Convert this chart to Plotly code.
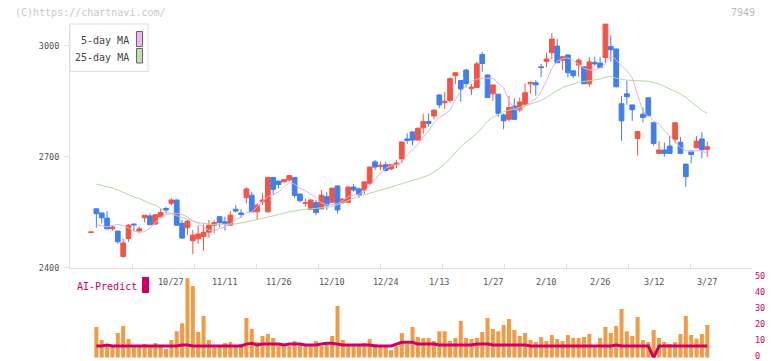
import plotly.graph_objects as go

W, H = 772, 361
def px(x): return x / W
def py(y): return 1 - y / H

FONT = "DejaVu Sans Mono"
RED = "#f25545"
BLUE = "#3f7fef"
ORANGE = "#f39a45"
CRIMSON = "#cc0066"
PINK = "#e6aee6"
GREEN = "#b2d9a2"

# ---- data ----
opens = [2495.5, 2559, 2548, 2534, 2505, 2499, 2430, 2479, 2518, 2499, 2535, 2540, 2518, 2537, 2560, 2574, 2583, 2520, 2508, 2473,
         2478, 2484, 2496, 2515, 2538, 2524, 2515, 2558, 2548, 2589, 2596, 2551, 2578, 2551, 2644, 2634, 2632, 2637, 2644, 2599,
         2574, 2558, 2576, 2559, 2592, 2577, 2621, 2576, 2577, 2618, 2613, 2610, 2628, 2686, 2673, 2678, 2667, 2678, 2694, 2748,
         2767, 2745, 2778, 2795, 2810, 2867, 2846, 2852, 2919, 2906, 2934, 2884, 2887, 2976, 2921, 2870, 2869, 2813, 2801, 2837,
         2826, 2842, 2897, 2900, 2943, 2957, 2981, 2999, 2961, 2975, 2932, 2948, 2943, 2897, 2955, 2953, 2968, 2998, 2991, 2843,
         2870, 2840, 2749, 2815, 2859, 2792, 2709, 2718, 2729, 2747, 2739, 2680, 2715, 2724, 2748, 2720]
highs = [2496.5, 2560, 2549, 2553, 2514, 2500, 2479, 2518, 2519, 2511, 2542, 2547, 2545, 2560, 2565, 2588, 2584, 2529, 2529, 2502,
         2515, 2517, 2529, 2529, 2540, 2538, 2553, 2569, 2558, 2617, 2605, 2574, 2601, 2645, 2645, 2635, 2640, 2651, 2645, 2600,
         2587, 2584, 2583, 2610, 2605, 2616, 2622, 2586, 2619, 2626, 2617, 2632, 2673, 2691, 2687, 2687, 2678, 2691, 2740, 2763,
         2768, 2778, 2815, 2817, 2827, 2868, 2875, 2914, 2928, 2907, 2938, 2897, 2957, 2983, 2922, 2894, 2870, 2817, 2864, 2858,
         2860, 2898, 2903, 2907, 2951, 2981, 3034, 3018, 2972, 2976, 2933, 2966, 2943, 2969, 2970, 2969, 3059, 3029, 2992, 2864,
         2905, 2841, 2770, 2833, 2860, 2793, 2742, 2738, 2756, 2793, 2753, 2681, 2716, 2756, 2766, 2741]
lows = [2495.5, 2508, 2520, 2504, 2500, 2465, 2427, 2470, 2499, 2493, 2522, 2516, 2516, 2535, 2546, 2569, 2514, 2479, 2488, 2437,
        2464, 2446, 2481, 2493, 2509, 2500, 2514, 2549, 2536, 2574, 2550, 2529, 2569, 2550, 2596, 2614, 2631, 2632, 2589, 2577,
        2565, 2557, 2542, 2558, 2556, 2576, 2547, 2572, 2576, 2605, 2589, 2599, 2625, 2664, 2664, 2660, 2664, 2669, 2682, 2734,
        2731, 2744, 2762, 2781, 2801, 2831, 2829, 2846, 2896, 2849, 2887, 2867, 2886, 2930, 2859, 2851, 2808, 2774, 2795, 2800,
        2820, 2840, 2871, 2865, 2915, 2942, 2964, 2953, 2934, 2914, 2912, 2916, 2897, 2889, 2946, 2940, 2954, 2957, 2887, 2743,
        2840, 2797, 2703, 2793, 2810, 2730, 2706, 2700, 2708, 2736, 2708, 2619, 2682, 2723, 2696, 2700]
closes = [2496.5, 2546, 2535, 2505, 2510, 2470, 2467, 2515, 2516, 2505, 2542, 2516, 2543, 2549, 2556, 2583, 2515, 2480, 2526, 2488,
          2491, 2496, 2515, 2522, 2522, 2519, 2542, 2553, 2544, 2613, 2551, 2569, 2583, 2644, 2612, 2625, 2638, 2649, 2595, 2581,
          2576, 2583, 2549, 2596, 2569, 2615, 2556, 2586, 2618, 2610, 2597, 2632, 2672, 2672, 2677, 2663, 2678, 2683, 2740, 2744,
          2745, 2777, 2795, 2790, 2826, 2840, 2850, 2911, 2927, 2883, 2898, 2888, 2951, 2952, 2860, 2894, 2817, 2797, 2833, 2801,
          2848, 2873, 2901, 2894, 2941, 2964, 3018, 2954, 2970, 2927, 2919, 2961, 2897, 2956, 2951, 2941, 3059, 2989, 2889, 2797,
          2862, 2827, 2768, 2806, 2811, 2736, 2718, 2709, 2709, 2792, 2709, 2646, 2706, 2742, 2719, 2727]

ma5 = [2517, 2513, 2510, 2514, 2517, 2514, 2508, 2499, 2496, 2497, 2507, 2522, 2537, 2543, 2547, 2547, 2544, 2537, 2527, 2520,
       2510, 2501, 2500, 2505, 2511, 2518, 2530, 2536, 2549, 2551, 2564, 2579, 2592, 2598, 2605, 2619, 2630, 2626, 2615, 2608,
       2600, 2590, 2575, 2570, 2570, 2573, 2582, 2592, 2596, 2599, 2606, 2622, 2641, 2655, 2669, 2675, 2678, 2685, 2705, 2720,
       2733, 2752, 2770, 2792, 2806, 2815, 2826, 2855, 2876, 2891, 2904, 2910, 2912, 2912, 2912, 2898, 2886, 2852, 2828, 2825,
       2836, 2848, 2856, 2876, 2905, 2939, 2958, 2965, 2967, 2960, 2950, 2939, 2934, 2935, 2940, 2952, 2973, 2962, 2945, 2932,
       2913, 2870, 2822, 2810, 2796, 2788, 2770, 2757, 2740, 2725, 2716, 2714, 2717, 2715, 2711]
ma25 = [2626, 2623, 2620, 2615, 2610, 2603, 2596, 2591, 2587, 2580, 2574, 2569, 2560, 2551, 2545, 2541, 2537, 2532, 2527, 2522,
        2519, 2518, 2517, 2517, 2517, 2517, 2518, 2521, 2523, 2527, 2530, 2533, 2536, 2540, 2543, 2547, 2551, 2554, 2556, 2558,
        2559, 2560, 2561, 2563, 2565, 2570, 2576, 2580, 2587, 2593, 2597, 2601, 2605, 2608, 2612, 2617, 2622, 2627, 2631, 2634,
        2640, 2645, 2650, 2658, 2670, 2680, 2695, 2712, 2727, 2740, 2752, 2763, 2778, 2796, 2806, 2815, 2822, 2826, 2828, 2833,
        2838, 2843, 2847, 2852, 2860, 2870, 2879, 2887, 2892, 2897, 2901, 2903, 2905, 2907, 2910, 2915, 2917, 2912, 2909, 2907,
        2906, 2905, 2904, 2904, 2900, 2897, 2890, 2884, 2878, 2870, 2860, 2849, 2836, 2825, 2817]

volume = [19.2, 11.0, 8.5, 7.3, 15.4, 19.8, 11.7, 7.3, 7.3, 8.5, 7.3, 9.2, 7.3, 5.4, 11.0, 16.6, 21.6, 49.6, 44.8, 16.0,
          26.0, 11.0, 7.3, 7.3, 9.2, 9.8, 7.3, 8.5, 24.8, 17.9, 9.8, 13.5, 14.8, 12.3, 8.5, 7.3, 7.3, 10.4, 8.5, 7.3,
          8.5, 10.4, 7.3, 9.8, 13.5, 32.3, 11.0, 8.5, 7.3, 7.3, 9.2, 11.7, 8.5, 7.3, 7.3, 4.8, 7.3, 15.4, 8.5, 19.2,
          12.9, 12.3, 12.3, 10.4, 16.6, 16.6, 10.4, 12.3, 22.9, 12.3, 11.7, 12.3, 16.0, 24.8, 17.9, 16.6, 20.4, 24.2, 17.3, 13.5,
          15.4, 11.0, 9.8, 12.9, 10.4, 14.2, 11.7, 10.4, 14.2, 12.3, 12.3, 12.9, 14.8, 7.3, 12.3, 19.2, 15.4, 19.8, 30.4, 16.6,
          13.5, 25.4, 11.0, 9.8, 17.3, 12.3, 9.8, 8.5, 9.8, 14.8, 26.0, 14.2, 11.9, 14.8, 20.4]
ai_predict = [7.3, 7.3, 7.9, 7.3, 7.3, 7.3, 7.3, 7.3, 7.3, 7.3, 7.3, 7.3, 7.3, 7.3, 7.3, 7.3, 7.9, 7.9, 7.3, 7.3,
              7.3, 7.3, 7.3, 7.3, 7.3, 7.3, 7.3, 7.3, 8.5, 9.0, 7.9, 8.5, 8.5, 8.5, 8.5, 7.9, 8.5, 8.5, 8.5, 7.9,
              7.9, 7.9, 8.5, 9.0, 9.0, 8.5, 7.9, 7.9, 7.9, 7.9, 7.9, 7.9, 7.3, 7.3, 7.3, 7.3, 8.5, 9.6, 9.6, 9.6,
              8.5, 8.5, 8.5, 8.5, 7.9, 7.9, 7.9, 7.9, 7.9, 7.9, 7.9, 8.5, 8.5, 8.5, 7.9, 7.9, 7.9, 7.9, 7.9, 7.9,
              7.9, 7.3, 7.3, 7.3, 7.3, 7.3, 7.3, 7.3, 7.3, 7.3, 7.3, 7.3, 7.3, 7.3, 7.3, 7.3, 7.3, 7.9, 7.3, 7.3,
              7.3, 7.3, 7.3, 7.3, 0.0, 7.3, 7.3, 7.3, 7.3, 7.3, 7.3, 7.3, 7.3, 7.3, 7.3]

date_labels = ["10/27", "11/11", "11/26", "12/10", "12/24", "1/13", "1/27", "2/10", "2/26", "3/12", "3/27"]
label_pos = [15, 25, 35, 45, 55, 65, 75, 85, 95, 105, 115]
price_ticks = [2400, 2700, 3000]
pred_ticks = [0, 10, 20, 30, 40, 50]

cx = list(range(len(opens)))
sx = list(range(1, len(opens)))
XR = [-3.92, 123.35]
TICK0, DTICK = -3.92, 11.57   # grid ticks every 62 px

fig = go.Figure()
fig.add_trace(go.Scatter(x=sx, y=ma25, mode="lines", line=dict(color=GREEN, width=1), hoverinfo="skip", showlegend=False))
fig.add_trace(go.Scatter(x=sx, y=ma5, mode="lines", line=dict(color=PINK, width=1), hoverinfo="skip", showlegend=False))
fig.add_trace(go.Candlestick(x=cx, open=opens, high=highs, low=lows, close=closes,
                             increasing=dict(line=dict(color=RED, width=1), fillcolor=RED),
                             decreasing=dict(line=dict(color=BLUE, width=1), fillcolor=BLUE),
                             whiskerwidth=0, showlegend=False, hoverinfo="skip"))
fig.add_trace(go.Bar(x=sx, y=volume, width=0.75, marker=dict(color=ORANGE, line=dict(width=0)),
                     xaxis="x2", yaxis="y2", showlegend=False, hoverinfo="skip"))
fig.add_trace(go.Scatter(x=sx, y=ai_predict, mode="lines", line=dict(color=CRIMSON, width=3),
                         xaxis="x2", yaxis="y2", showlegend=False, hoverinfo="skip"))

AX = "#e0e0e0"
fig.update_layout(
    template="none",
    width=W, height=H, autosize=False,
    margin=dict(l=0, r=0, t=0, b=0, pad=0, autoexpand=False),
    paper_bgcolor="white", plot_bgcolor="white",
    boxgap=0.12, boxgroupgap=0,
    showlegend=False,
    font=dict(family=FONT),
    xaxis=dict(domain=[px(70), px(752)], range=XR, anchor="y", showline=True, linecolor=AX, linewidth=1,
               showticklabels=False, tickmode="linear", tick0=TICK0, dtick=DTICK,
               ticks="inside", ticklen=4, tickcolor=AX, tickwidth=1,
               showgrid=False, zeroline=False, automargin=False,
               rangeslider=dict(visible=False), fixedrange=True),
    yaxis=dict(domain=[py(267.7), py(23.5)], range=[2400, 3060], anchor="x", tickvals=price_ticks,
               ticks="outside", ticklen=5, tickcolor=AX, showline=True, linecolor=AX, linewidth=1,
               tickfont=dict(family=FONT, size=8.5, color="#555555"), showgrid=False, zeroline=False,
               automargin=False, ticklabeloverflow="allow", ticklabelstandoff=3),
    xaxis2=dict(domain=[px(70), px(752)], range=XR, anchor="y2", side="top", showline=False,
                showticklabels=False, tickmode="linear", tick0=TICK0, dtick=DTICK,
                ticks="inside", ticklen=2, tickcolor=AX, tickwidth=1,
                showgrid=False, zeroline=False, automargin=False),
    yaxis2=dict(domain=[py(357.7), py(268)], range=[0, 56.06], anchor="x2", side="right",
                tickvals=pred_ticks, ticks="", showline=False, showgrid=False, zeroline=False,
                tickfont=dict(family=FONT, size=8.5, color=CRIMSON), automargin=False,
                ticklabeloverflow="allow", ticklabelshift=-2, ticklabelstandoff=2),
)

shapes = [
    dict(type="rect", xref="paper", yref="paper", x0=px(70), x1=px(148), y0=py(71.5), y1=py(24),
         line=dict(color=AX, width=1), fillcolor="white", layer="above"),
    dict(type="rect", xref="paper", yref="paper", x0=px(136.5), x1=px(142.5), y0=py(46.5), y1=py(31.5),
         line=dict(color="#666666", width=1), fillcolor="#f0b8f0", layer="above"),
    dict(type="rect", xref="paper", yref="paper", x0=px(136.5), x1=px(142.5), y0=py(63), y1=py(48.5),
         line=dict(color="#666666", width=1), fillcolor="#bfe0b0", layer="above"),
    dict(type="rect", xref="paper", yref="paper", x0=px(142), x1=px(149), y0=py(293), y1=py(277),
         line=dict(width=0), fillcolor=CRIMSON, layer="above"),
]
fig.update_layout(shapes=shapes)

ann = [
    dict(text="(C)https://chartnavi.com/", x=px(13), y=py(12.5), xanchor="left", yanchor="middle",
         xref="paper", font=dict(family=FONT, size=10, color="#c8c8c8")),
    dict(text="7949", x=px(757), y=py(12.5), xanchor="right", yanchor="middle",
         xref="paper", font=dict(family=FONT, size=10, color="#bbbbbb")),
    dict(text="5-day MA", x=px(131), y=py(40.5), xanchor="right", yanchor="middle",
         xref="paper", font=dict(family=FONT, size=10, color="#444444")),
    dict(text="25-day MA", x=px(131), y=py(57), xanchor="right", yanchor="middle",
         xref="paper", font=dict(family=FONT, size=10, color="#444444")),
    dict(text="AI-Predict", x=px(75), y=py(286), xanchor="left", yanchor="middle",
         xref="paper", font=dict(family=FONT, size=10, color=CRIMSON)),
]
for pos, lab in zip(label_pos, date_labels):
    ann.append(dict(text=lab, x=pos, xref="x2", y=py(282), xanchor="center", yanchor="middle",
                    font=dict(family=FONT, size=8.5, color="#555555")))
for a in ann:
    a.update(yref="paper", showarrow=False)
fig.update_layout(annotations=ann)

fig.write_html("out.html", config={"displayModeBar": False, "staticPlot": True},
               post_script="document.body.style.margin='0';document.body.style.overflow='hidden';")
